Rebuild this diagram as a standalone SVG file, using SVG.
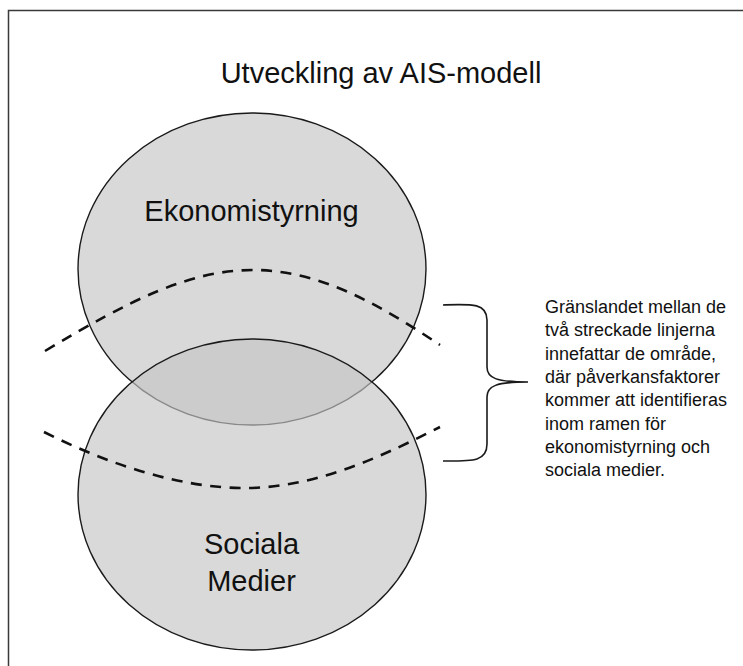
<svg xmlns="http://www.w3.org/2000/svg" width="743" height="666" viewBox="0 0 743 666">
  <style>
    .frame { fill: none; stroke: #3a3a3a; stroke-width: 1.5; }
    .circle { fill: #c4c4c4; fill-opacity: 0.65; stroke: #1a1a1a; stroke-width: 1.4; }
    .big { font-family: "Liberation Sans", Arial, Helvetica, sans-serif; font-size: 29px; fill: #111; text-anchor: middle; }
    .note { font-family: "Liberation Sans", Arial, Helvetica, sans-serif; font-size: 18px; fill: #111; }
    .dash { fill: none; stroke: #111; stroke-width: 2.6; stroke-dasharray: 11 8.5; }
    .brace { fill: none; stroke: #1a1a1a; stroke-width: 1.6; }
  </style>
  <rect width="743" height="666" fill="#ffffff"/>
  <rect class="frame" x="8.5" y="10.5" width="800" height="700"/>
  <g id="title">
    <text class="big" x="381" y="83">Utveckling av AIS-modell</text>
  </g>
  <g id="ekonomistyrning">
    <ellipse class="circle" cx="252" cy="269" rx="174" ry="156"/>
    <text class="big" x="251.5" y="221">Ekonomistyrning</text>
  </g>
  <g id="sociala-medier">
    <ellipse class="circle" cx="252" cy="494.5" rx="174" ry="155.5"/>
    <text class="big" x="251.5" y="554">Sociala</text>
    <text class="big" x="251.5" y="591">Medier</text>
  </g>
  <g id="connectors">
    <path class="dash" d="M45,351 C130,300 190,270 253,270 C320,270 380,305 440,345"/>
    <path class="dash" d="M44,432 C110,465 180,488 245,488 C320,488 390,452 440,427"/>
    <path class="brace" d="M443,305 C472,304 487,303 487,320 L487,367 C487,378 496,382 528,382 C496,382 487,386 487,397 L487,444 C487,462 472,461 443,461"/>
  </g>
  <g id="note">
    <text class="note" x="545" y="313">Gränslandet mellan de</text>
    <text class="note" x="545" y="336.3">två streckade linjerna</text>
    <text class="note" x="545" y="359.7">innefattar de område,</text>
    <text class="note" x="545" y="383">där påverkansfaktorer</text>
    <text class="note" x="545" y="406.3">kommer att identifieras</text>
    <text class="note" x="545" y="429.7">inom ramen för</text>
    <text class="note" x="545" y="453">ekonomistyrning och</text>
    <text class="note" x="545" y="476.3">sociala medier.</text>
  </g>
</svg>
